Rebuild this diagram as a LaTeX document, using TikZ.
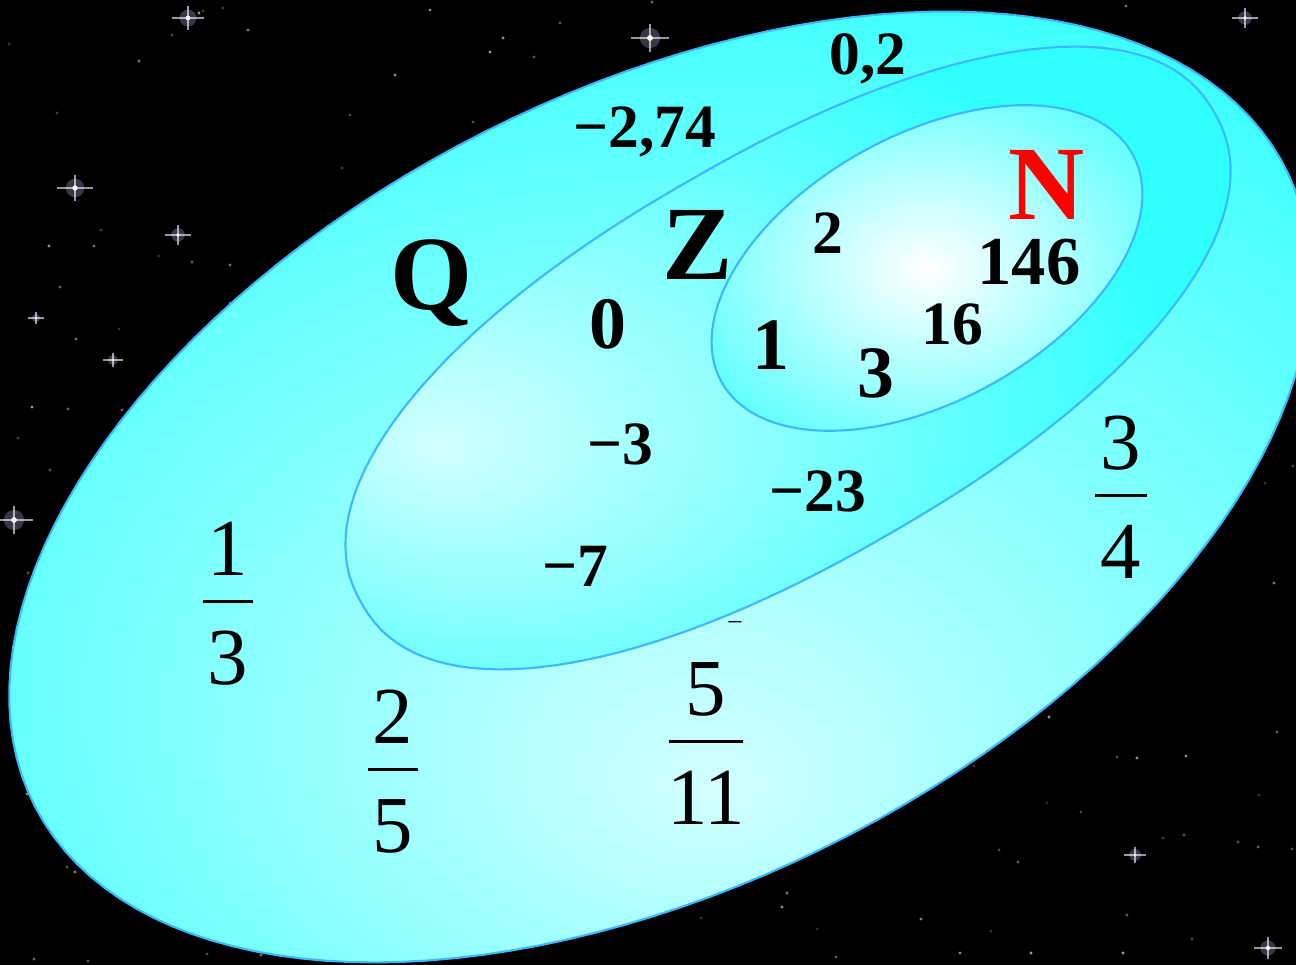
\documentclass[tikz,border=0pt]{standalone}
\usepackage{fontspec}
\setmainfont{Liberation Serif}
\definecolor{skyedge}{HTML}{2EFFFF}
\definecolor{skylight}{HTML}{D2FFFF}
\definecolor{setline}{HTML}{3CB8FF}
\definecolor{starglow}{HTML}{B8B8F0}
\definecolor{natred}{HTML}{FF0000}
\pgfdeclareradialshading{qshade}{\pgfpoint{2bp}{-16bp}}{color(0bp)=(skylight);color(40bp)=(skyedge);color(80bp)=(skyedge)}
\pgfdeclareradialshading{zshade}{\pgfpoint{-20bp}{-7bp}}{color(0bp)=(skylight);color(34bp)=(skyedge);color(80bp)=(skyedge)}
\pgfdeclareradialshading{nshade}{\pgfpoint{0bp}{0bp}}{color(0bp)=(white);color(9bp)=(skylight);color(40bp)=(skyedge);color(80bp)=(skyedge)}
\newcommand{\qfr}[3]{\begin{tabular}{@{}c@{}}#1\\[-18.95pt]\rule{#3}{0.9pt}\\[-3.85pt]#2\end{tabular}}
\tikzset{
  declare function={spow(\s,\e)=(\s<0?-1:1)*pow(abs(\s)+0.00001,\e);},
  setedge/.style={draw=setline,line width=0.6pt},
  blob/.style={domain=1:361,samples=144,variable=\t},
  numsm/.style={font=\fontsize{17.5}{20}\selectfont\bfseries,inner sep=0pt,anchor=base},
  numbig/.style={font=\fontsize{21}{24}\selectfont\bfseries,inner sep=0pt,anchor=base},
  setname/.style={font=\fontsize{30}{32}\selectfont\bfseries,inner sep=0pt,anchor=base},
  fracnum/.style={font=\fontsize{23}{27}\selectfont,inner sep=0pt},
}
\begin{document}
\begin{tikzpicture}[x=0.01cm,y=-0.01cm]
  \useasboundingbox (0,0) rectangle (1296,965);
  \clip (0,0) rectangle (1296,965);
  \fill[black] (0,0) rectangle (1296,965);
  \pgfmathsetseed{31}
  \foreach \k in {1,...,260}{
    \pgfmathsetmacro{\sx}{random(0,1296)}
    \pgfmathsetmacro{\sy}{random(0,965)}
    \pgfmathsetmacro{\so}{0.12+0.5*rnd}
    \fill[white,opacity=\so] (\sx,\sy) circle[radius=0.45pt];}
  \foreach \x/\y/\s in {188/18/1,650/38/1.2,75/188/1.1,178/235/0.8,113/360/0.6,14/520/1.2,1245/18/0.8,1135/855/0.7,1268/948/0.9,36/318/0.5}{
    \fill[starglow,opacity=0.3] (\x,\y) circle[radius=\s*2.4pt];
    \fill[white,opacity=0.9] (\x,\y) circle[radius=\s*0.7pt];
    \draw[white,line width=0.45pt,opacity=0.6] (\x-\s*16,\y) -- (\x+\s*16,\y) (\x,\y-\s*12) -- (\x,\y+\s*12);}
  \shadedraw[shading=qshade,setedge] plot[blob] ({660+702*cos(\t)*cos(27)+396*sin(\t)*sin(27)},{487-702*cos(\t)*sin(27)+396*sin(\t)*cos(27)}) -- cycle;
  \shadedraw[shading=zshade,setedge] plot[blob] ({788+492*spow(cos(\t),0.909)*cos(30)+203*spow(sin(\t),0.909)*sin(30)},{358-492*spow(cos(\t),0.909)*sin(30)+203*spow(sin(\t),0.909)*cos(30)}) -- cycle;
  \shadedraw[shading=nshade,setedge] plot[blob] ({927+235*cos(\t)*cos(29)+133*sin(\t)*sin(29)},{268-235*cos(\t)*sin(29)+133*sin(\t)*cos(29)}) -- cycle;
  \node[setname] (q) at (432,310) {Q};
  \node[setname] (z) at (698,280) {Z};
  \node[setname,text=natred] (n) at (1047,220) {N};
  \node[numsm] (q02) at (868,75) {0,2};
  \node[numsm] (q274) at (645,148) {−2,74};
  \node[numsm] (n2) at (828,254) {2};
  \node[numsm,font=\fontsize{19.5}{22}\selectfont\bfseries] (n146) at (1029,285) {146};
  \node[numsm] (n16) at (952,345) {16};
  \node[numbig] (n1) at (771,370) {1};
  \node[numbig] (n3) at (876,398) {3};
  \node[numbig] (z0) at (608,349) {0};
  \node[numsm] (zm3) at (620,465) {−3};
  \node[numsm] (zm23) at (818,512) {−23};
  \node[numsm] (zm7) at (575,587) {−7};
  \node[inner sep=0pt,font=\fontsize{8}{8}\selectfont] (dash) at (735,626) {−};
  \node[fracnum] (f13) at (228,611) {\qfr{1}{3}{0.50cm}};
  \node[fracnum] (f25) at (393,779) {\qfr{2}{5}{0.49cm}};
  \node[fracnum] (f34) at (1121,505) {\qfr{3}{4}{0.51cm}};
  \node[fracnum] (f511) at (706,751) {\qfr{5}{11}{0.73cm}};
\end{tikzpicture}
\end{document}
